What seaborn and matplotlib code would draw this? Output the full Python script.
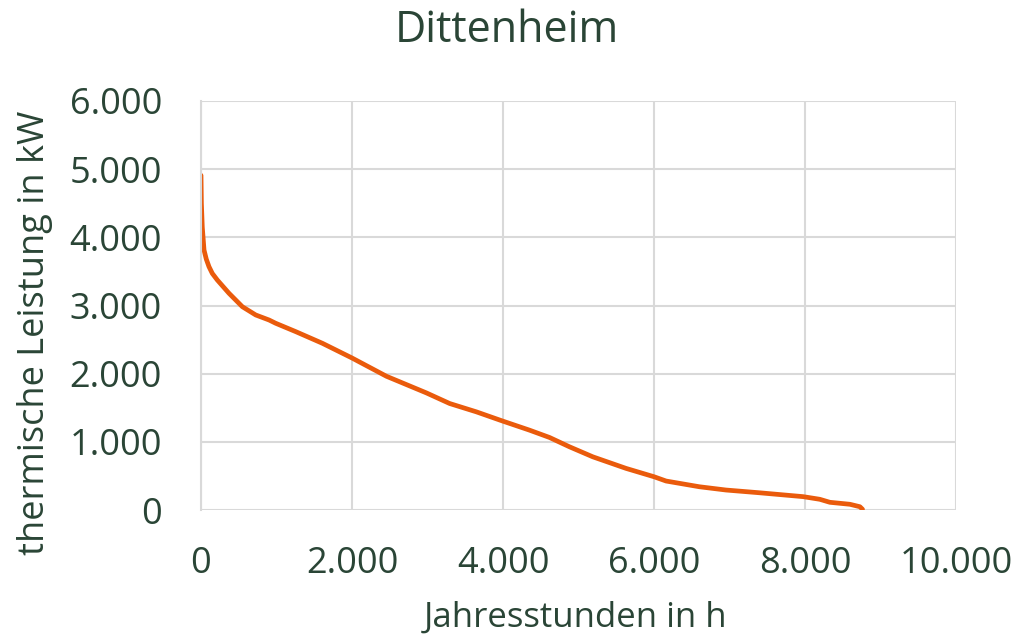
import matplotlib
matplotlib.use("Agg")
import matplotlib.pyplot as plt
import matplotlib.ticker as mticker
import seaborn as sns
import pandas as pd

# Jahresdauerlinie Dittenheim
hours = [0, 5, 17, 40, 70, 106, 150, 216, 371, 548, 725, 902, 990, 1256, 1609,
         2000, 2456, 2985, 3294, 3647, 4000, 4352, 4616, 4881, 5190, 5631,
         6000, 6160, 6601, 6954, 7394, 7975, 8196, 8329, 8594, 8727, 8762]
kw = [4910, 4500, 4150, 3814, 3680, 3569, 3470, 3374, 3179, 2982, 2861, 2787,
      2739, 2616, 2445, 2230, 1962, 1718, 1562, 1440, 1303, 1171, 1064, 927,
      780, 610, 488, 425, 341, 293, 253, 196, 157, 113, 84, 48, 10]
x_ticks = [0, 2000, 4000, 6000, 8000, 10000]
y_ticks = [0, 1000, 2000, 3000, 4000, 5000, 6000]

df = pd.DataFrame({"h": hours, "kW": kw})

sns.set_style("white")
plt.rcParams["font.family"] = ["Open Sans", "DejaVu Sans"]
txt = "#2a4536"
grid = "#d9d9d9"

fig = plt.figure(figsize=(10.2, 6.36), dpi=100)
ax = fig.add_axes([201 / 1020, 1 - 510 / 636, 755 / 1020, 409 / 636])

sns.lineplot(data=df, x="h", y="kW", ax=ax, color="#ea5b0c", linewidth=3.4)

ax.set_xlim(0, 10000)
ax.set_ylim(0, 6000)
ax.set_xticks(x_ticks)
ax.set_yticks(y_ticks)
fmt = mticker.FuncFormatter(lambda v, p: f"{int(v):,}".replace(",", "."))
ax.xaxis.set_major_formatter(fmt)
ax.yaxis.set_major_formatter(fmt)
ax.grid(True, color=grid, linewidth=1.5)
ax.set_axisbelow(True)
for s in ax.spines.values():
    s.set_visible(False)
ax.spines["left"].set_visible(True)
ax.spines["left"].set_color(grid)
ax.spines["left"].set_linewidth(1.5)
ax.tick_params(axis="both", length=0, labelsize=26, labelcolor=txt)
ax.tick_params(axis="x", pad=26)
ax.tick_params(axis="y", pad=28)
ax.set_xlabel("")
ax.set_ylabel("")

fig.text(0.497, 1 - 31 / 636, "Dittenheim", ha="center", va="center",
         fontsize=31, color=txt)
fig.text(576 / 1020, 1 - 618 / 636, "Jahresstunden in h", ha="center",
         va="center", fontsize=25, color=txt)
fig.text(35 / 1020, 1 - 333 / 636, "thermische Leistung in kW", ha="center",
         va="center", rotation=90, fontsize=26, color=txt)

fig.savefig("out.png", dpi=100)
